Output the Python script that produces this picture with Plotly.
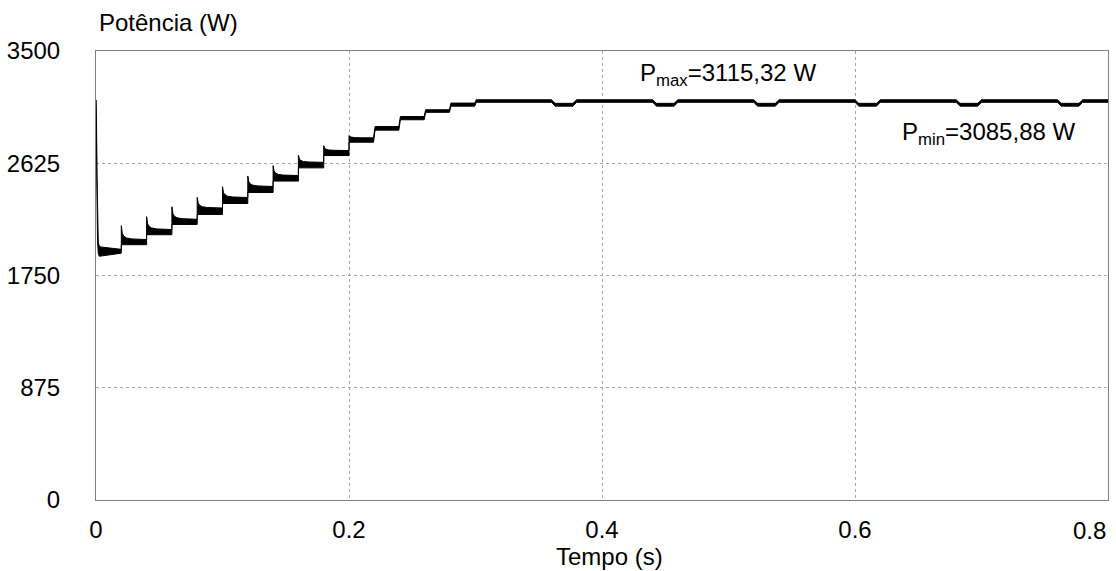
import plotly.graph_objects as go

# ---------------- data ----------------
# initial transient (t = 0 .. first plateau)
init_t = [0.0, 0.0004, 0.0008, 0.0012, 0.0018, 0.0026, 0.0040]
init_upper = [3118, 2950, 2520, 2150, 2005, 1980, 1972]
init_lower = [3118, 2850, 2380, 2020, 1922, 1900, 1903]

# step instants, spike peaks and plateau bands (top / bottom) after each step
step_t = [0.02, 0.04, 0.06, 0.08, 0.10, 0.12, 0.14, 0.16, 0.18, 0.20,
          0.22, 0.24, 0.26, 0.28, 0.30]
spike_peak = [2138, 2209, 2286, 2359, 2442, 2526, 2606, 2689, 2762, 2840,
              None, None, None, None, None]
first_top_end = 1954
first_bot_end = 1924
band_top = [2030, 2108, 2188, 2276, 2358, 2444, 2529, 2632, 2724, 2823,
            2911, 2989, 3042, 3094, 3120]
band_bot = [1990, 2068, 2148, 2226, 2311, 2397, 2486, 2589, 2685, 2789,
            2883, 2964, 3022, 3070, 3100]

# periodic dips in steady state
dip_start = [0.36, 0.44, 0.52, 0.60, 0.68, 0.76]
dip_end = [0.379, 0.459, 0.539, 0.619, 0.699, 0.779]
dip_top = 3092
dip_bot = 3070
t_end = 0.8

# axis ticks
x_ticks = [0, 0.2, 0.4, 0.6]
x_ticktext = ["0", "0.2", "0.4", "0.6"]
y_ticks = [0, 875, 1750, 2625, 3500]

# ---------------- build envelope polygon ----------------
decay_dt = [0.0008, 0.002, 0.004, 0.008]
decay_fr = [0.45, 0.25, 0.12, 0.05]

ut, uy = list(init_t), list(init_upper)
lt, ly = list(init_t), list(init_lower)
ut.append(step_t[0]); uy.append(first_top_end)
lt.append(step_t[0]); ly.append(first_bot_end)

for i, t in enumerate(step_t):
    top, bot = band_top[i], band_bot[i]
    prev_top, prev_bot = uy[-1], ly[-1]
    nxt = step_t[i + 1] if i + 1 < len(step_t) else None
    if spike_peak[i] is not None:
        d = spike_peak[i] - top
        ut += [t, t]; uy += [prev_top, spike_peak[i]]
        for dt, fr in zip(decay_dt, decay_fr):
            ut.append(t + dt); uy.append(top + fr * d)
        lt += [t, t]; ly += [prev_bot, bot]
    else:
        ut += [t - 0.0006, t + 0.0006]; uy += [prev_top, top]
        lt += [t - 0.0006, t + 0.0006]; ly += [prev_bot, bot]
    if nxt is not None:
        ut.append(nxt - 0.0006 if spike_peak[i + 1] is None else nxt); uy.append(top)
        lt.append(nxt - 0.0006 if spike_peak[i + 1] is None else nxt); ly.append(bot)

top, bot = band_top[-1], band_bot[-1]
for ds, de in zip(dip_start, dip_end):
    ut += [ds, ds + 0.003, de - 0.002, de + 0.001]
    uy += [top, dip_top, dip_top, top]
    lt += [ds, ds + 0.003, de - 0.002, de + 0.001]
    ly += [bot, dip_bot, dip_bot, bot]
ut.append(t_end); uy.append(top)
lt.append(t_end); ly.append(bot)

px = ut + lt[::-1]
py = uy + ly[::-1]

FONT = "Arial, Liberation Sans, sans-serif"

fig = go.Figure()
fig.add_trace(go.Scatter(x=px, y=py, mode="lines", fill="toself",
                         fillcolor="black", line=dict(color="black", width=1),
                         hoverinfo="skip", showlegend=False))

fig.update_layout(
    width=1116, height=571,
    margin=dict(l=95, r=7, t=51, b=71),
    paper_bgcolor="white", plot_bgcolor="white",
    font=dict(family=FONT, size=24, color="black"),
    showlegend=False,
    annotations=[
        dict(text="Potência (W)", xref="paper", yref="paper",
             x=(96 - 95) / 1014, y=(500 - 22) / 449,
             xanchor="left", yanchor="middle", showarrow=False),
        dict(text="Tempo (s)", xref="paper", yref="paper",
             x=(610 - 95) / 1014, y=-(556 - 500) / 449,
             xanchor="center", yanchor="middle", showarrow=False),
        dict(text="0.8", x=0.8, y=0, xref="x", yref="y", xanchor="right",
             yanchor="top", yshift=-15, showarrow=False),
        dict(text="P<sub>max</sub>=3115,32 W", x=0.4994, y=3318, xref="x", yref="y",
             xanchor="center", yanchor="middle", showarrow=False),
        dict(text="P<sub>min</sub>=3085,88 W", x=0.7061, y=2860, xref="x", yref="y",
             xanchor="center", yanchor="middle", showarrow=False),
    ],
)

fig.update_xaxes(range=[0, 0.8], tickvals=x_ticks, ticktext=x_ticktext,
                 showgrid=True, gridcolor="#a6a6a6", griddash="dot", gridwidth=1,
                 showline=True, linecolor="#808080", linewidth=1, mirror=True,
                 ticks="", zeroline=False, ticklabelstandoff=8)
fig.update_yaxes(range=[0, 3500], tickvals=y_ticks,
                 showgrid=True, gridcolor="#a6a6a6", griddash="dot", gridwidth=1,
                 showline=True, linecolor="#808080", linewidth=1, mirror=True,
                 ticks="", zeroline=False, ticklabelstandoff=30)

fig.write_html("out.html")
